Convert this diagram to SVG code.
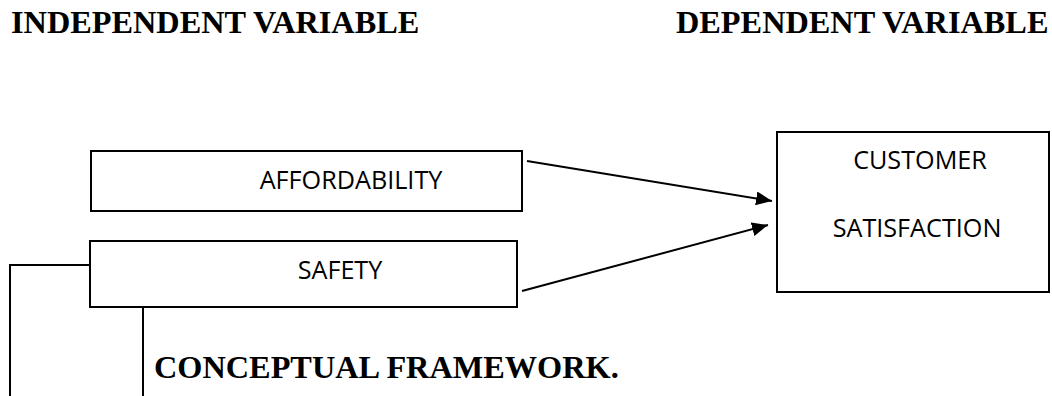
<svg xmlns="http://www.w3.org/2000/svg" width="1052" height="396" viewBox="0 0 1052 396">
<style>
.hdr{font-family:"Liberation Serif","Times New Roman",serif;font-weight:bold;font-size:32.3px;fill:#000}
.box{fill:#fff;stroke:#000;stroke-width:2}
.lbl{font-family:"Open Sans","Liberation Sans",sans-serif;font-size:25.2px;fill:#000}
.ln{fill:none;stroke:#000;stroke-width:2}
</style>
<defs>
<marker id="ah" viewBox="0 0 16 14" refX="16" refY="7" markerWidth="16" markerHeight="14" markerUnits="userSpaceOnUse" orient="auto">
<path d="M0,0 L16,7 L0,14 Z" fill="#000"/>
</marker>
</defs>
<rect width="1052" height="396" fill="#fff"/>
<text class="hdr" x="11" y="32.5">INDEPENDENT VARIABLE</text>
<text class="hdr" x="676" y="32.5">DEPENDENT VARIABLE</text>
<g id="affordability">
<rect class="box" x="91" y="151" width="431" height="60"/>
<text class="lbl" x="351" y="189.3" text-anchor="middle">AFFORDABILITY</text>
</g>
<g id="safety">
<rect class="box" x="90" y="241" width="427" height="66"/>
<text class="lbl" x="340" y="279.3" text-anchor="middle">SAFETY</text>
</g>
<g id="customer-satisfaction">
<rect class="box" x="777" y="132" width="272" height="160"/>
<text class="lbl" x="920" y="169" text-anchor="middle">CUSTOMER</text>
<text class="lbl" x="917" y="237" text-anchor="middle">SATISFACTION</text>
</g>
<g id="connectors">
<line class="ln" x1="527" y1="161" x2="772" y2="201" marker-end="url(#ah)"/>
<line class="ln" x1="522" y1="291" x2="768" y2="225" marker-end="url(#ah)"/>
<polyline class="ln" points="90,265 10,265 10,396"/>
<line class="ln" x1="143" y1="307" x2="143" y2="396"/>
</g>
<text class="hdr" x="154" y="378">CONCEPTUAL FRAMEWORK.</text>
</svg>
